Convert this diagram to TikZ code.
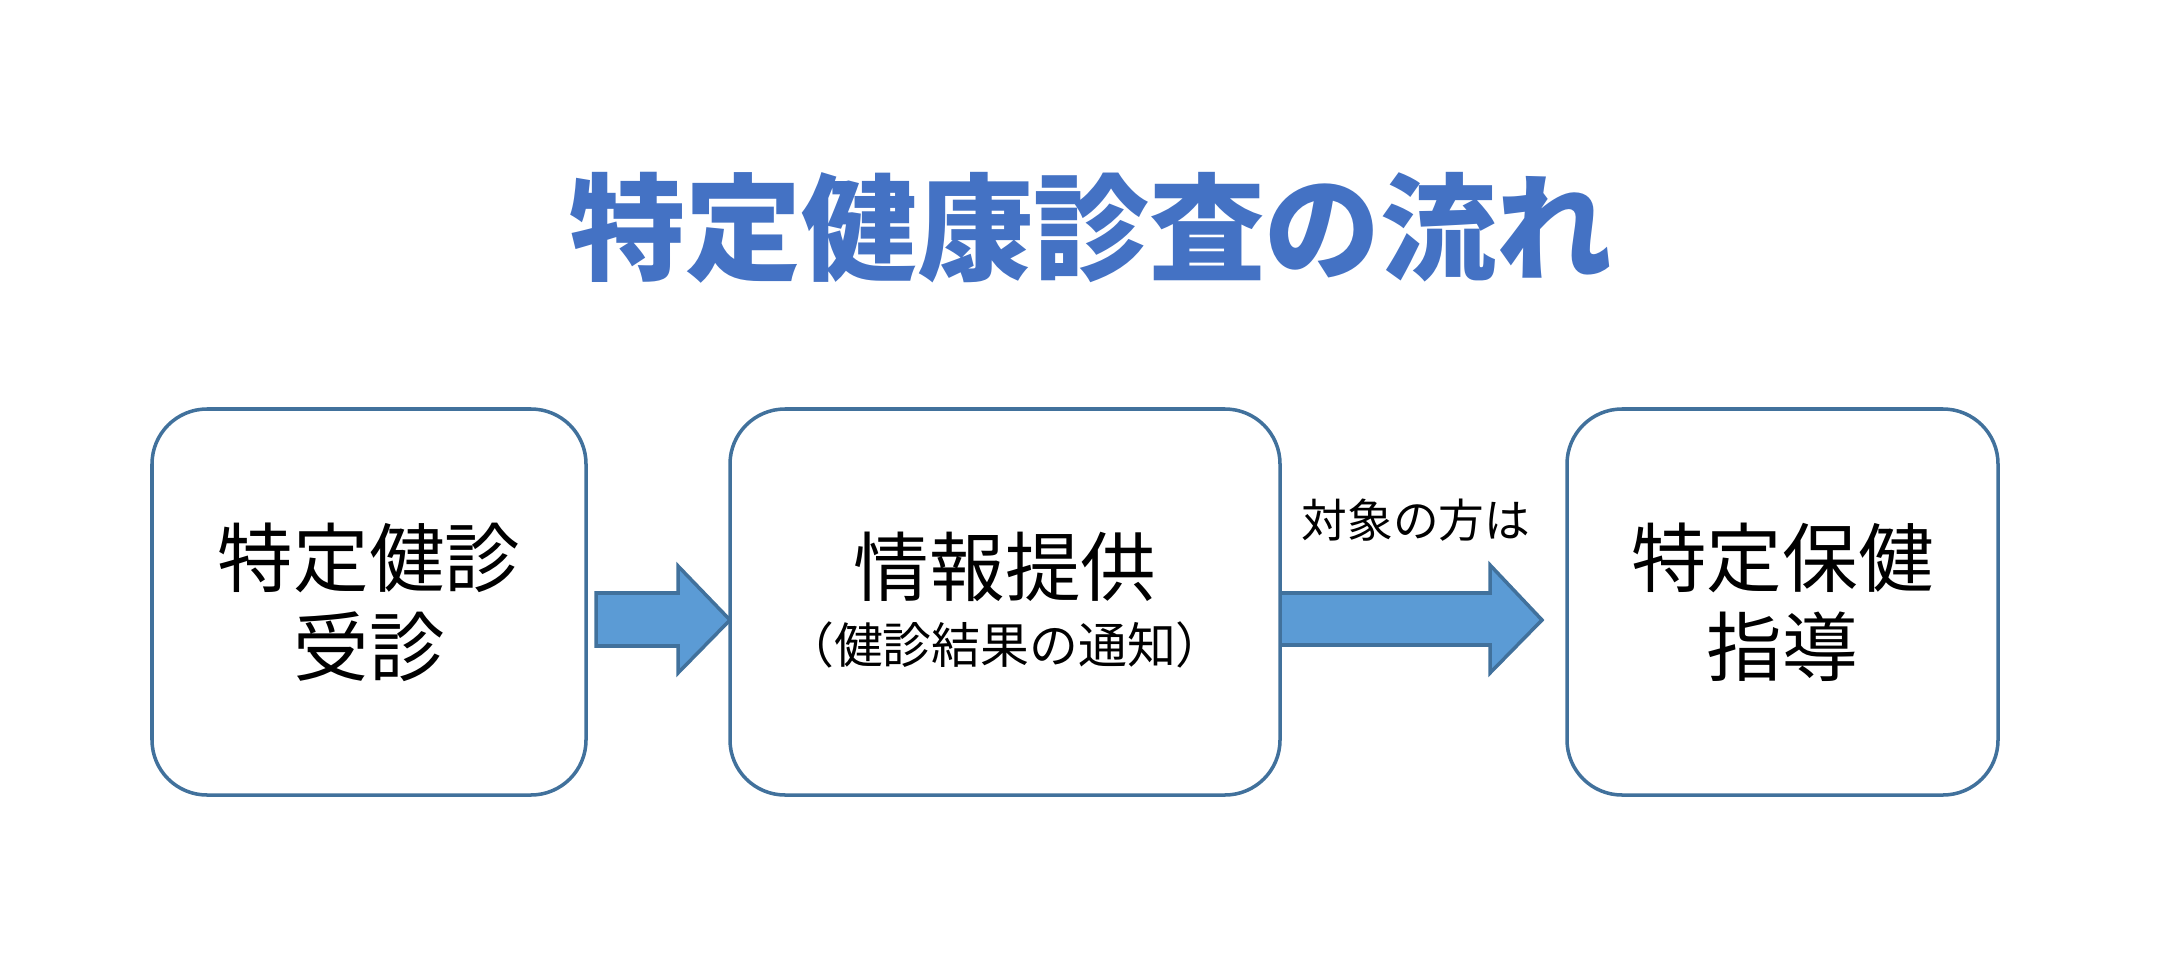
\documentclass[tikz,border=0pt]{standalone}
\usepackage{fontspec}
\newfontfamily\jpfont{Noto Sans CJK JP}
\usepackage{xcolor}
\definecolor{boxline}{HTML}{41719C}
\definecolor{arrowfill}{HTML}{5B9BD5}
\definecolor{titleblue}{HTML}{4472C4}

\begin{document}
\begin{tikzpicture}[
  stepbox/.style={draw=boxline, line width=1pt, fill=white, rounded corners=0.55cm,
                  minimum height=3.86cm, align=center,
                  font=\jpfont\fontsize{21.5pt}{25.3pt}\selectfont},
  blockarrow/.style={draw=boxline, line width=1pt, fill=arrowfill},
  boxtext/.style={font=\jpfont\fontsize{21.5pt}{25.3pt}\selectfont, inner sep=0pt},
  subtext/.style={font=\jpfont\fontsize{13pt}{15pt}\selectfont, inner sep=0pt}
]
  \useasboundingbox (0,0) rectangle (21.68,9.72);

  % Title
  \node[font=\jpfont\bfseries\fontsize{33pt}{38pt}\selectfont, text=titleblue] (title)
    at (10.91,7.44) {特定健康診査の流れ};

  % Arrows
  \draw[blockarrow] (5.96,3.79) -- (6.78,3.79) -- (6.78,4.06) -- (7.30,3.52)
    -- (6.78,2.99) -- (6.78,3.26) -- (5.96,3.26) -- cycle;
  \draw[blockarrow] (12.80,3.79) -- (14.90,3.79) -- (14.90,4.07) -- (15.42,3.52)
    -- (14.90,2.99) -- (14.90,3.27) -- (12.80,3.27) -- cycle;

  % Boxes
  \node[stepbox, minimum width=4.34cm] (jushin) at (3.69,3.70) {特定健診\\受診};
  \node[stepbox, minimum width=5.50cm] (teikyo) at (10.05,3.70) {};
  \node[stepbox, minimum width=4.31cm] (shido) at (17.825,3.70) {特定保健\\指導};

  % Box 2 text
  \node[boxtext] (joho) at (10.05,4.05) {情報提供};
  \node[subtext, font=\jpfont\fontsize{13.9pt}{16pt}\selectfont] (tsuchi)
    at (10.05,3.27) {（健診結果の通知）};

  % Arrow label
  \node[subtext] (taisho) at (14.16,4.52) {対象の方は};
\end{tikzpicture}
\end{document}
